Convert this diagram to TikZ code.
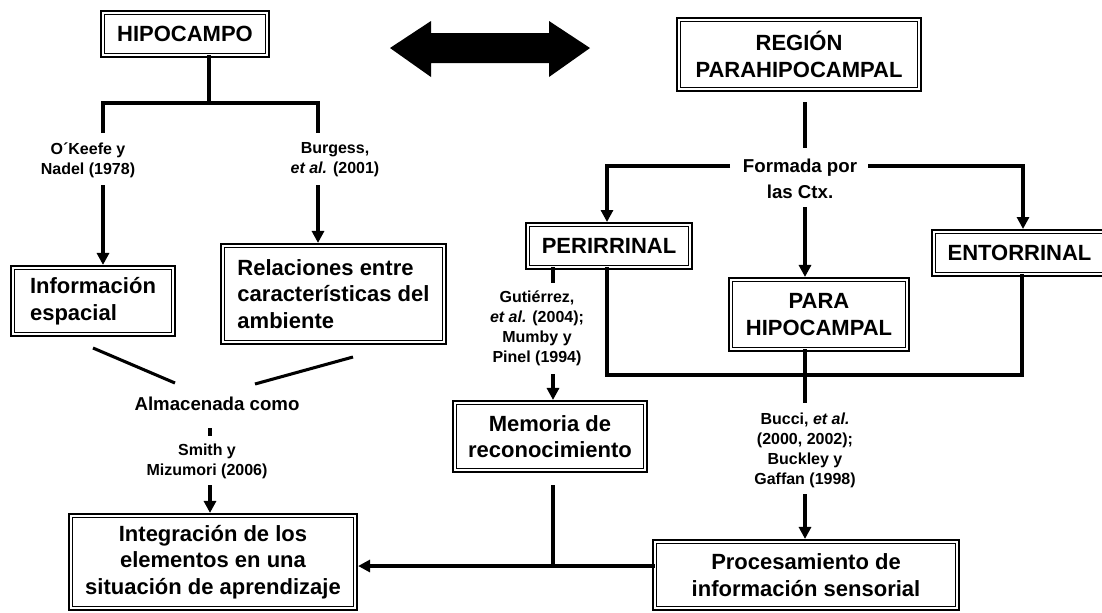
\documentclass[tikz,border=0pt]{standalone}
\usepackage{fontspec}
\setmainfont{Liberation Sans}
\usetikzlibrary{arrows.meta}
\newcommand\dframe[1]{%
 \draw[line width=1.9pt] ([shift={(-1.2pt,1.2pt)}]#1.north west) rectangle ([shift={(1.2pt,-1.2pt)}]#1.south east);
 \draw[line width=0.9pt] ([shift={(1.6pt,-1.6pt)}]#1.north west) rectangle ([shift={(-1.6pt,1.6pt)}]#1.south east);}
\begin{document}
\begin{tikzpicture}[x=0.75pt,y=-0.75pt,
  dbox/.style={inner sep=0pt, align=center, font=\fontsize{16.5}{20}\selectfont\bfseries},
  lbl/.style={inner sep=0pt, align=center, font=\fontsize{12}{15}\selectfont\bfseries},
  mlbl/.style={inner sep=0pt, align=center, font=\fontsize{14}{19.5}\selectfont\bfseries},
  ln/.style={line width=2.3pt},
  arr/.style={line width=2.8pt, -{Triangle[width=9pt,length=9pt]}, shorten >=2pt},
]
\path[use as bounding box] (0,0) rectangle (1102,612);
\clip (0,0) rectangle (1102,612);

% boxes
\node[dbox, minimum width=123.2pt, minimum height=31.6pt] (hip) at (185,34) {HIPOCAMPO};
\node[dbox, align=left, minimum width=120.2pt, minimum height=49.7pt] (info) at (93,301) {Información\\espacial};
\node[dbox, align=left, minimum width=165.9pt, minimum height=72.2pt] (rel) at (333.5,294) {Relaciones entre\\características del\\ambiente};
\node[dbox, minimum width=213.2pt, minimum height=69.2pt] (integ) at (213,562) {Integración de los\\elementos en una\\situación de aprendizaje};
\node[dbox, minimum width=180.2pt, minimum height=51.9pt] (reg) at (799,54.5) {REGIÓN\\PARAHIPOCAMPAL};
\node[dbox, minimum width=121.7pt, minimum height=31.6pt] (peri) at (609,246) {PERIRRINAL};
\node[dbox, minimum width=128.4pt, minimum height=31.6pt] (ento) at (1019.5,253) {ENTORRINAL};
\node[dbox, minimum width=132.2pt, minimum height=51.9pt] (para) at (819,314.5) {PARA\\HIPOCAMPAL};
\node[dbox, minimum width=142.7pt, minimum height=50.4pt] (mem) at (550,436.5) {Memoria de\\reconocimiento};
\node[dbox, minimum width=226.7pt, minimum height=49.7pt] (proc) at (806,575) {Procesamiento de\\información sensorial};
\foreach \n in {hip,info,rel,integ,reg,peri,ento,para,mem,proc} {\dframe{\n}}

% labels
\node[lbl] (okf) at (88,160) {O´Keefe y\\Nadel (1978)};
\node[lbl] (burg) at (335,160) {Burgess,\\\textit{et al.} (2001)};
\node[mlbl] (alm) at (217,404) {Almacenada como};
\node[lbl] (smith) at (207,461) {Smith y\\Mizumori (2006)};
\node[mlbl] (form) at (800,179) {Formada por\\las Ctx.};
\node[lbl] (gut) at (537,328.5) {Gutiérrez,\\\textit{et al.} (2004);\\Mumby y\\Pinel (1994)};
\node[lbl] (bucci) at (805,450.5) {Bucci, \textit{et al.}\\(2000, 2002);\\Buckley y\\Gaffan (1998)};

% double arrow
\fill (390,48) -- (431,21) -- (431,33) -- (549,33) -- (549,21) -- (590,48)
  -- (549,77) -- (549,63) -- (431,63) -- (431,77) -- cycle;

% left connectors
\coordinate (hj) at (209,103);
\coordinate (lj) at (103,103); \coordinate (rj) at (318,103);
\coordinate (lstub) at (103,133); \coordinate (rstub) at (318,133);
\coordinate (larr) at (103,185); \coordinate (rarr) at (318,185);
\draw[ln] (hip.south -| hj) -- (hj);
\draw[ln] (lstub) -- (lj) -- (rj) -- (rstub);
\draw[arr] (larr) -- (larr |- info.north);
\draw[arr] (rarr) -- (rarr |- rel.north);
\coordinate (a1) at (93,348); \coordinate (a2) at (175,383);
\coordinate (a3) at (353,357); \coordinate (a4) at (255,384);
\draw[ln] (a1) -- (a2);
\draw[ln] (a3) -- (a4);
\coordinate (s1) at (210,428); \coordinate (s2) at (210,436);
\draw[line width=3pt] (s1) -- (s2);
\coordinate (sa) at (210,485);
\draw[arr] (sa) -- (sa |- integ.north);

% right connectors
\coordinate (r1) at (805,102); \coordinate (r2) at (805,148);
\draw[ln] (r1) -- (r2);
\coordinate (fl) at (730,166); \coordinate (fpl) at (607,166);
\draw[arr] (fl) -- (fpl) -- (fpl |- peri.north);
\coordinate (fr) at (868,166); \coordinate (fpr) at (1023,166);
\draw[arr] (fr) -- (fpr) -- (fpr |- ento.north);
\coordinate (fc) at (805,207);
\draw[arr] (fc) -- (fc |- para.north);
\coordinate (g1) at (553,283);
\draw[ln] (g1 |- peri.south) -- (g1);
\coordinate (g2) at (553,374);
\draw[arr] (g2) -- (g2 |- mem.north);
\coordinate (u1) at (607,375); \coordinate (u2) at (1022,375);
\draw[ln] (u1 |- peri.south) -- (u1) -- (u2) -- (u2 |- ento.south);
\coordinate (p1) at (805,403);
\draw[ln] (p1 |- para.south) -- (p1);
\coordinate (p2) at (805,494);
\draw[arr] (p2) -- (p2 |- proc.north);
\coordinate (m1) at (553,485); \coordinate (m2) at (553,566);
\draw[ln] (m1) -- (m2);
\draw[arr] (proc.west |- m2) -- (integ.east |- m2);
\end{tikzpicture}
\end{document}
